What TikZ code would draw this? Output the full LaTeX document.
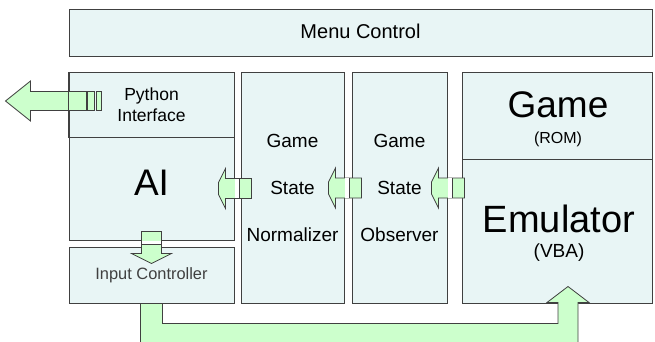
\documentclass[tikz,border=0pt]{standalone}
\usepackage{fontspec}
\setmainfont{Liberation Sans}
\usetikzlibrary{calc}

\definecolor{boxfill}{HTML}{E8F5F5}
\definecolor{boxline}{HTML}{404040}
\definecolor{arrowfill}{HTML}{CCFFCC}

\begin{document}
\begin{tikzpicture}[x=1pt,y=-1pt,
    blk/.style={draw=boxline,fill=boxfill,line width=1pt,inner sep=0pt},
    txt/.style={inner sep=0pt},
    blockarrow/.style={draw=boxline,fill=arrowfill,line width=0.8pt},
    gapline/.style={draw=boxline,line width=0.8pt}]
  \useasboundingbox (0,0) rectangle (655,342);
  \begin{scope}[every node/.style={blk}]
    \node (menu) [minimum width=583pt,minimum height=47pt,text depth=5pt,
      font=\fontsize{20}{24}\selectfont] at (360.5,33.5) {Menu Control};
    \node (python) [minimum width=165pt,minimum height=64pt,align=center,
      font=\fontsize{17.5}{21}\selectfont] at (151.5,105) {Python\\Interface};
    \node (ai) [minimum width=165pt,minimum height=103pt] at (151.5,188.5) {};
    \node (input) [minimum width=165pt,minimum height=56pt,text=boxline,
      font=\fontsize{16.4}{20}\selectfont] at (151.5,275) {Input Controller};
    \node (norm) [minimum width=103pt,minimum height=230pt,align=center,
      font=\fontsize{19}{47}\selectfont] at (292.5,188) {Game\\State\\Normalizer};
    \node (obs) [minimum width=95pt,minimum height=230pt,align=center,
      font=\fontsize{19}{47}\selectfont] at (399.5,188) {Game\\State\\Observer};
    \node (game) [minimum width=190pt,minimum height=86pt] at (557,116) {};
    \node (emu) [minimum width=190pt,minimum height=144pt] at (557,231) {};
  \end{scope}
  \begin{scope}[every node/.style={txt}]
    \node (ai-txt) [font=\fontsize{37}{40}\selectfont] at (151.5,183) {AI};
    \node (game-txt) [font=\fontsize{37}{40}\selectfont] at (558,105) {Game};
    \node (rom-txt) [font=\fontsize{16}{19}\selectfont] at (558,139) {(ROM)};
    \node (emu-txt) [font=\fontsize{38}{42}\selectfont] at (559,219) {Emulator};
    \node (vba-txt) [font=\fontsize{19}{22}\selectfont] at (559,253) {(VBA)};
  \end{scope}
  \begin{scope}[shift={($(python.west)+(0,-4)$)}]
    \filldraw[blockarrow] (-63,0) -- (-38,-20) -- (-38,-9.5) -- (18,-9.5)
      -- (18,9.5) -- (-38,9.5) -- (-38,20) -- cycle;
    \filldraw[blockarrow] (19,-9.5) rectangle (26,9.5);
    \filldraw[blockarrow] (28,-9.5) rectangle (33,9.5);
  \end{scope}
  \draw[boxline,line width=1pt] (python.north west) -- (python.south west);
  \foreach \dst in {ai,norm,obs}
    \filldraw[blockarrow,shift={($(\dst.east)+(-16,0)$)}] (0,-6) -- (7,-20)
      -- (7,-10) -- (33,-10) -- (33,10) -- (7,10) -- (7,20) -- (0,6) -- cycle;
  \foreach \dst in {ai,norm,obs} {
    \fill[white] ($(\dst.east)+(0.5,-9.6)$) rectangle ++(4,19.2);
    \draw[gapline] ($(\dst.east)+(4.5,-10)$) -- ++(0,20);
  }
  \filldraw[blockarrow,shift={(ai.south)}] (-10,-9) -- (10,-9) -- (10,13)
    -- (20,13) -- (0,23) -- (-20,13) -- (-10,13) -- cycle;
  \fill[white] ($(ai.south)+(-9.6,0.5)$) rectangle ++(19.2,3.5);
  \draw[gapline] ($(ai.south)+(-10,4)$) -- ++(20,0);
  \filldraw[blockarrow] ($(input.south)+(-11,0)$) -- ++(22,0) -- ++(0,20)
    -- ($(emu.south)+(1,20)$) -- ($(emu.south)+(1,-1)$) -- ++(-11,0)
    -- ++(21,-16) -- ++(21,16) -- ++(-11,0) -- ($(emu.south)+(21,40)$)
    -- ($(input.south)+(-11,40)$) -- cycle;
\end{tikzpicture}
\end{document}
